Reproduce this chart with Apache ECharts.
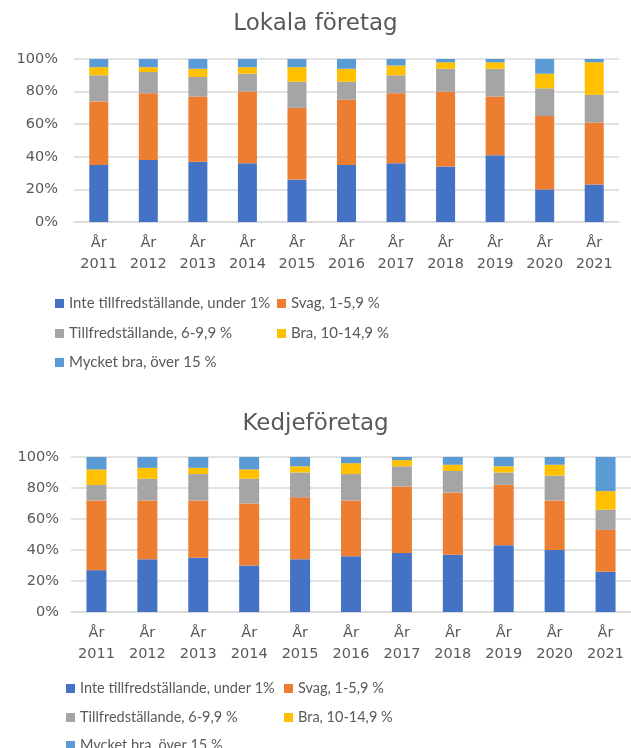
<!DOCTYPE html>
<html>
<head>
<meta charset="utf-8">
<script src="https://cdn.jsdelivr.net/npm/echarts@6/dist/echarts.min.js"></script>
<style>
  html, body { margin: 0; padding: 0; background: #fff; }
  #main { width: 631px; height: 748px; }
</style>
</head>
<body>
<div id="main"></div>
<script>
var years = ['2011','2012','2013','2014','2015','2016','2017','2018','2019','2020','2021'];
var seriesNames = [
  'Inte tillfredställande, under 1%',
  'Svag, 1-5,9 %',
  'Tillfredställande, 6-9,9 %',
  'Bra, 10-14,9 %',
  'Mycket bra, över 15 %'
];
var yTicks = [0, 20, 40, 60, 80, 100];

// Lokala företag
var lokInte    = [35, 38, 37, 36, 26, 35, 36, 34, 41, 20, 23];
var lokSvag    = [39, 41, 40, 44, 44, 40, 43, 46, 36, 45, 38];
var lokTill    = [16, 13, 12, 11, 16, 11, 11, 14, 17, 17, 17];
var lokBra     = [5, 3, 5, 4, 9, 8, 6, 4, 4, 9, 20];
var lokMycket  = [5, 5, 6, 5, 5, 6, 4, 2, 2, 9, 2];

// Kedjeföretag
var kedInte    = [27, 34, 35, 30, 34, 36, 38, 37, 43, 40, 26];
var kedSvag    = [45, 38, 37, 40, 40, 36, 43, 40, 39, 32, 27];
var kedTill    = [10, 14, 17, 16, 16, 17, 13, 14, 8, 16, 13];
var kedBra     = [10, 7, 4, 6, 4, 7, 4, 4, 4, 7, 12];
var kedMycket  = [8, 7, 7, 8, 6, 4, 2, 5, 6, 5, 22];

var colors = ['#4472C4', '#ED7D31', '#A5A5A5', '#FFC000', '#5B9BD5'];
var txt = '#595959';
var font = 'Lato';
var axisFont = 'DejaVu Sans';

var lokData = [lokInte, lokSvag, lokTill, lokBra, lokMycket];
var kedData = [kedInte, kedSvag, kedTill, kedBra, kedMycket];

function xAxis(idx) {
  return {
    type: 'category',
    gridIndex: idx,
    data: years,
    axisLine: { lineStyle: { color: '#d9d9d9', width: 1.5 } },
    axisTick: { show: false },
    axisLabel: {
      color: txt, fontFamily: axisFont, fontSize: 14.5, lineHeight: 21,
      margin: 11, interval: 0,
      formatter: function (v) { return 'År\n' + v; }
    }
  };
}
function yAxis(idx, margin) {
  return {
    type: 'value',
    gridIndex: idx,
    min: 0, max: 100, interval: 20,
    axisLine: { show: false },
    axisTick: { show: false },
    splitLine: { lineStyle: { color: '#d9d9d9', width: 1.5 } },
    axisLabel: {
      color: txt, fontFamily: axisFont, fontSize: 14.5, margin: margin,
      formatter: function (v) { return yTicks.indexOf(v) >= 0 ? v + '%' : ''; }
    }
  };
}

var series = [];
seriesNames.forEach(function (n, i) {
  series.push({
    name: n, type: 'bar', stack: 'lok', xAxisIndex: 0, yAxisIndex: 0,
    data: lokData[i], barWidth: 19,
    itemStyle: { color: colors[i] }
  });
});
seriesNames.forEach(function (n, i) {
  series.push({
    name: n, type: 'bar', stack: 'ked', xAxisIndex: 1, yAxisIndex: 1,
    data: kedData[i], barWidth: 20,
    itemStyle: { color: colors[i] }
  });
});

// legend positions: [left, top] per item, two columns
function legends(col1, col2, rows, size) {
  var pos = [[col1, rows[0]], [col2, rows[0]], [col1, rows[1]], [col2, rows[1]], [col1, rows[2]]];
  return seriesNames.map(function (n, i) {
    return {
      data: [n], left: pos[i][0], top: pos[i][1],
      itemWidth: 9, itemHeight: 9, icon: 'rect',
      selectedMode: false,
      textStyle: { color: txt, fontFamily: font, fontSize: size }
    };
  });
}

var myChart = echarts.init(document.getElementById('main'));
var option = {
  animation: false,
  color: colors,
  title: [
    { text: 'Lokala företag', left: 'center', top: 8,
      textStyle: { color: txt, fontFamily: axisFont, fontSize: 23, fontWeight: 'normal' } },
    { text: 'Kedjeföretag', left: 'center', top: 408,
      textStyle: { color: txt, fontFamily: axisFont, fontSize: 23, fontWeight: 'normal' } }
  ],
  legend: legends(50, 272, [291, 321, 350], 15).concat(legends(61, 279, [676, 705, 733], 14.5)),
  grid: [
    { left: 74, top: 59, width: 545, height: 163 },
    { left: 71, top: 457, width: 566, height: 155 }
  ],
  xAxis: [xAxis(0), xAxis(1)],
  yAxis: [yAxis(0, 16), yAxis(1, 12)],
  series: series
};
myChart.setOption(option);
</script>
</body>
</html>
